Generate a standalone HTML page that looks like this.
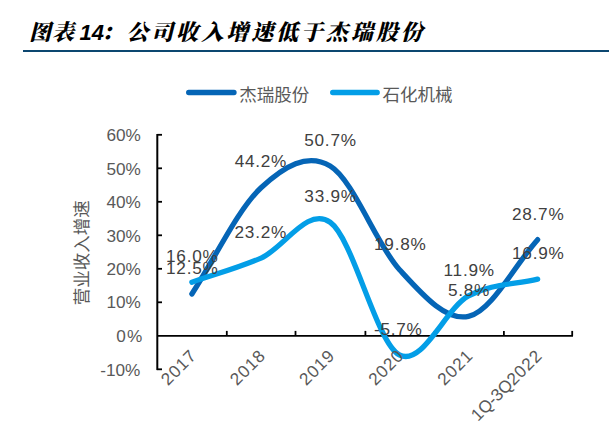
<!DOCTYPE html>
<html lang="zh"><head><meta charset="utf-8"><title>图表14</title>
<style>
html,body{margin:0;padding:0;background:#fff}
body{width:609px;height:441px;position:relative;overflow:hidden}
.title{position:absolute;left:0;top:0;width:609px;height:52px}
.t{position:absolute;top:16.6px;height:32px;line-height:32px;font-style:italic;font-weight:900;color:#000;white-space:nowrap;
 font-family:"Liberation Serif","Noto Serif CJK SC",serif;font-size:22px}
.t.n{font-family:"Liberation Sans",sans-serif;font-weight:bold;font-size:22px}
.rule{position:absolute;left:23px;top:49.8px;width:586px;height:2.3px;background:#0c4770}
svg text{white-space:pre}
</style></head><body>
<div class="title">
<span class="t" style="left:29px;letter-spacing:1px">图表</span><span class="t n" style="left:79.5px">14</span><span class="t" style="left:101px">：</span><span class="t" style="left:126.4px;letter-spacing:2.95px">公司收入增速低于杰瑞股份</span>
<div class="rule"></div>
</div>
<svg width="609" height="441" viewBox="0 0 609 441" style="position:absolute;left:0;top:0">
<line x1="188.7" y1="92.5" x2="234" y2="92.5" stroke="#0565b6" stroke-width="5.3" stroke-linecap="round"/>
<line x1="332.7" y1="92.5" x2="377.2" y2="92.5" stroke="#039ee7" stroke-width="5.3" stroke-linecap="round"/>
<g font-family="Liberation Sans, Noto Sans CJK SC, sans-serif" font-size="17.5" fill="#595959">
<text x="239.3" y="101">杰瑞股份</text>
<text x="382.6" y="101">石化机械</text>
<text transform="translate(87.6,252.8) rotate(-90)" text-anchor="middle">营业收入增速</text>
</g>
<g stroke="#000" fill="none">
<line x1="157.3" y1="134.0" x2="157.3" y2="370.1" stroke-width="2"/>
<line x1="157.3" y1="335.8" x2="573.0" y2="335.8" stroke-width="1.8"/>
<line x1="157.3" y1="369.3" x2="162.0" y2="369.3" stroke-width="1.8"/>
<line x1="157.3" y1="302.3" x2="162.0" y2="302.3" stroke-width="1.8"/>
<line x1="157.3" y1="268.8" x2="162.0" y2="268.8" stroke-width="1.8"/>
<line x1="157.3" y1="235.3" x2="162.0" y2="235.3" stroke-width="1.8"/>
<line x1="157.3" y1="201.8" x2="162.0" y2="201.8" stroke-width="1.8"/>
<line x1="157.3" y1="168.3" x2="162.0" y2="168.3" stroke-width="1.8"/>
<line x1="157.3" y1="134.8" x2="162.0" y2="134.8" stroke-width="1.8"/>
<line x1="226.8" y1="335.8" x2="226.8" y2="330.9" stroke-width="1.8"/>
<line x1="295.5" y1="335.8" x2="295.5" y2="330.9" stroke-width="1.8"/>
<line x1="365.4" y1="335.8" x2="365.4" y2="330.9" stroke-width="1.8"/>
<line x1="434.5" y1="335.8" x2="434.5" y2="330.9" stroke-width="1.8"/>
<line x1="503.9" y1="335.8" x2="503.9" y2="330.9" stroke-width="1.8"/>
<line x1="572.2" y1="335.8" x2="572.2" y2="330.9" stroke-width="1.8"/>
</g>
<g font-family="Liberation Sans, sans-serif" font-size="17.2" fill="#595959">
<text x="140.4" y="375.5" text-anchor="end">-10%</text>
<text x="143.2" y="342.0" text-anchor="end" letter-spacing="1">0%</text>
<text x="140.9" y="307.6" text-anchor="end">10%</text>
<text x="140.9" y="275.0" text-anchor="end">20%</text>
<text x="140.9" y="241.5" text-anchor="end">30%</text>
<text x="140.9" y="208.0" text-anchor="end">40%</text>
<text x="140.9" y="174.5" text-anchor="end">50%</text>
<text x="140.9" y="141.0" text-anchor="end">60%</text>
</g>
<path d="M191.88,293.93 C214.93,258.53 237.98,209.06 261.03,187.73 C284.08,166.40 307.12,152.33 330.18,165.95 C353.23,179.58 376.28,244.40 399.33,269.47 C422.38,294.54 445.43,321.34 468.48,316.37 C491.53,311.40 514.58,265.23 537.62,239.66" fill="none" stroke="#0565b6" stroke-width="5.3" stroke-linecap="round" stroke-linejoin="round"/>
<path d="M191.88,282.20 C214.93,274.16 237.98,268.07 261.03,258.08 C284.08,248.09 307.12,206.10 330.18,222.24 C353.23,238.37 376.28,342.61 399.33,354.90 C422.38,367.18 445.43,308.55 468.48,295.94 C491.53,283.32 514.58,284.77 537.62,279.19" fill="none" stroke="#039ee7" stroke-width="5.3" stroke-linecap="round" stroke-linejoin="round"/>
<g font-family="Liberation Sans, sans-serif" font-size="17.2" letter-spacing="0.9" fill="#595959">
<text transform="translate(197.6,356.7) rotate(-45)" text-anchor="end">2017</text>
<text transform="translate(266.7,356.7) rotate(-45)" text-anchor="end">2018</text>
<text transform="translate(335.9,356.7) rotate(-45)" text-anchor="end">2019</text>
<text transform="translate(405.0,356.7) rotate(-45)" text-anchor="end">2020</text>
<text transform="translate(474.2,356.7) rotate(-45)" text-anchor="end">2021</text>
<text transform="translate(543.3,356.7) rotate(-45)" text-anchor="end"><tspan letter-spacing="-0.25">1Q-3Q</tspan>2022</text>
</g>
<g font-family="Liberation Sans, sans-serif" font-size="17.2" letter-spacing="0.75" fill="#404040" text-anchor="middle">
<text x="192.3" y="273.5">12.5%</text>
<text x="260.9" y="167.2">44.2%</text>
<text x="330.5" y="146.0">50.7%</text>
<text x="400.3" y="249.8">19.8%</text>
<text x="469.0" y="295.8">5.8%</text>
<text x="538.2" y="219.8">28.7%</text>
<text x="192.3" y="261.6">16.0%</text>
<text x="260.8" y="237.9">23.2%</text>
<text x="330.6" y="201.6">33.9%</text>
<text x="398.3" y="334.6">-5.7%</text>
<text x="469.2" y="276.0">11.9%</text>
<text x="538.3" y="259.0">16.9%</text>
</g>
</svg>
</body></html>
